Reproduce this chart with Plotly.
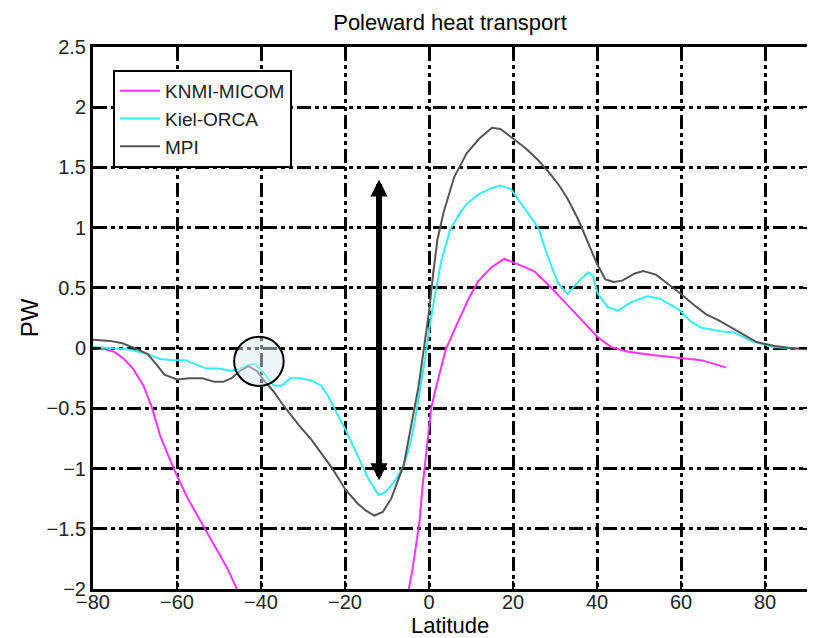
import plotly.graph_objects as go

# Poleward heat transport (PW) against latitude
micom_lat = [-80, -77, -75, -72.6, -70.5, -68, -66, -64, -61.5, -60, -57.4, -54.3, -51.2, -48, -46, -45,
             None,
             -5.2, -4.8, -4, -3, -2.3, -1.5, -0.3, 0.5, 1.5, 2.7, 4, 6.8, 9.3, 11.6, 14.8, 17.9, 20.2,
             25, 28.3, 32.1, 36.2, 40.2, 43.3, 47.4, 53.6, 59.5, 64.8, 70.7]
micom_pw = [0.0, -0.01, -0.03, -0.09, -0.17, -0.31, -0.49, -0.73, -0.94, -1.06, -1.25, -1.44, -1.63, -1.83, -1.98, -2.06,
            None,
            -2.12, -2.0, -1.85, -1.6, -1.45, -1.14, -0.75, -0.5, -0.35, -0.18, -0.01, 0.21, 0.4, 0.55, 0.67, 0.74, 0.71,
            0.64, 0.53, 0.39, 0.24, 0.09, 0.01, -0.03, -0.06, -0.08, -0.1, -0.16]

orca_lat = [-80, -76, -72, -69, -67, -64, -61, -58, -56, -53, -50, -47, -45, -43, -41.5, -39, -37, -35, -33,
            -30.5, -28, -25.7, -24, -22, -20, -17, -14.5, -12, -10.5, -9, -7.5, -6, -4.5, -3.5, -2, -1, 0.5,
            2.9, 5, 7, 9, 12, 15, 17, 19.5, 22.6, 26, 28.3, 30.7, 33, 35.5, 37.9, 39, 40.2, 42.6, 45, 48, 52,
            55, 59.5, 62.4, 64.8, 69.5, 72.6, 76.7, 82, 86, 90]
orca_pw = [0.01, 0.0, -0.01, -0.03, -0.05, -0.09, -0.1, -0.1, -0.13, -0.17, -0.17, -0.19, -0.17, -0.14, -0.13,
           -0.22, -0.31, -0.31, -0.25, -0.25, -0.27, -0.31, -0.4, -0.53, -0.67, -0.89, -1.08, -1.22, -1.2, -1.14,
           -1.07, -0.97, -0.8, -0.63, -0.33, -0.1, 0.26, 0.72, 0.98, 1.1, 1.2, 1.28, 1.33, 1.35, 1.32, 1.17, 1.0,
           0.76, 0.54, 0.45, 0.55, 0.63, 0.6, 0.45, 0.34, 0.31, 0.38, 0.43, 0.41, 0.32, 0.22, 0.17, 0.14, 0.13,
           0.06, 0.01, 0.0, -0.01]

mpi_lat = [-80, -76, -73, -70, -67, -65, -63, -60, -57, -54, -51, -49, -47, -45, -43, -41, -39, -37, -35, -33,
           -31, -28, -26, -23, -20, -17, -15, -13, -11, -9, -6, -4.3, -2.5, -1, 0, 1, 2, 3.5, 6, 9, 12, 15, 17,
           20, 23, 26, 29, 31, 33, 35.5, 38, 40, 42, 44, 46, 49, 51, 54, 57, 60, 63, 66, 69, 72, 75, 78, 82, 86, 90]
mpi_pw = [0.07, 0.06, 0.04, 0.0, -0.05, -0.13, -0.22, -0.26, -0.25, -0.25, -0.28, -0.28, -0.25, -0.19, -0.15,
          -0.19, -0.28, -0.36, -0.46, -0.55, -0.64, -0.76, -0.86, -1.0, -1.17, -1.29, -1.35, -1.39, -1.36, -1.25,
          -0.97, -0.64, -0.32, 0.05, 0.3, 0.62, 0.9, 1.13, 1.42, 1.62, 1.74, 1.83, 1.82, 1.74, 1.66, 1.56, 1.44,
          1.35, 1.24, 1.07, 0.86, 0.7, 0.57, 0.55, 0.56, 0.62, 0.64, 0.61, 0.53, 0.45, 0.36, 0.28, 0.23, 0.17,
          0.11, 0.05, 0.02, 0.0, -0.01]

series = [('KNMI-MICOM', micom_lat, micom_pw, '#ff33ff'),
          ('Kiel-ORCA', orca_lat, orca_pw, '#33f0f0'),
          ('MPI', mpi_lat, mpi_pw, '#555555')]

font = 'Liberation Sans, Arial, sans-serif'
grid_dash = '14px,4px,4px,4px,4px,4px'

# the page body keeps its default 8px margin, so the figure is 8px smaller than the window
W, H = 807, 630
ML, MR, MT, MB = 85, 8, 39, 49
plot_h = H - MT - MB

fig = go.Figure()
for name, lat, pw, color in series:
    fig.add_trace(go.Scatter(x=lat, y=pw, mode='lines', name=name,
                             line=dict(color=color, width=2)))

# highlighted circle near 40S
fig.add_shape(type='circle', xref='x', yref='y', x0=-46.4, x1=-34.6, y0=-0.314, y1=0.094,
              line=dict(color='black', width=2), fillcolor='rgba(215,235,240,0.5)', layer='above')

# double-headed arrow spanning the tropical range
fig.add_annotation(x=-11.9, y=1.40, ax=-11.9, ay=-1.11, xref='x', yref='y', axref='x', ayref='y',
                   text='', showarrow=True, arrowhead=2, startarrowhead=2, arrowside='end+start',
                   arrowwidth=6, arrowsize=0.57, startarrowsize=0.57, arrowcolor='black', standoff=0,
                   startstandoff=0)

# x axis title placed by hand so it sits just under the tick labels
fig.add_annotation(text='Latitude', x=0.5, y=-36 / plot_h, xref='paper', yref='paper',
                   xanchor='center', yanchor='middle', showarrow=False,
                   font=dict(size=22, color='black', family=font))

axis_style = dict(showline=True, linecolor='black', linewidth=3, mirror='ticks',
                  ticks='inside', ticklen=8, tickwidth=2, tickcolor='black',
                  showgrid=True, gridcolor='black', gridwidth=2.5, griddash=grid_dash,
                  zeroline=False, automargin=False,
                  tickfont=dict(size=20, color='#222222', family=font))

fig.update_xaxes(range=[-80, 90], tick0=-80, dtick=20, ticklabelstandoff=-7, **axis_style)
fig.update_yaxes(range=[-2, 2.5], tick0=-2, dtick=0.5,
                 title=dict(text='PW', font=dict(size=24, color='black', family=font), standoff=2),
                 **axis_style)

fig.update_layout(
    width=W, height=H,
    margin=dict(l=ML, r=MR, t=MT, b=MB, autoexpand=False),
    paper_bgcolor='white', plot_bgcolor='white',
    title=dict(text='Poleward heat transport', x=0.5, xref='paper', y=1 - 14 / H, yref='container',
               yanchor='middle', font=dict(size=22, color='black', family=font)),
    legend=dict(x=0.028, y=1 - 23 / plot_h, xanchor='left', yanchor='top', bgcolor='white',
                bordercolor='black', borderwidth=2, font=dict(size=19, color='#222222', family=font),
                itemwidth=40, tracegroupgap=0),
    showlegend=True,
)

fig.write_html("out.html")
